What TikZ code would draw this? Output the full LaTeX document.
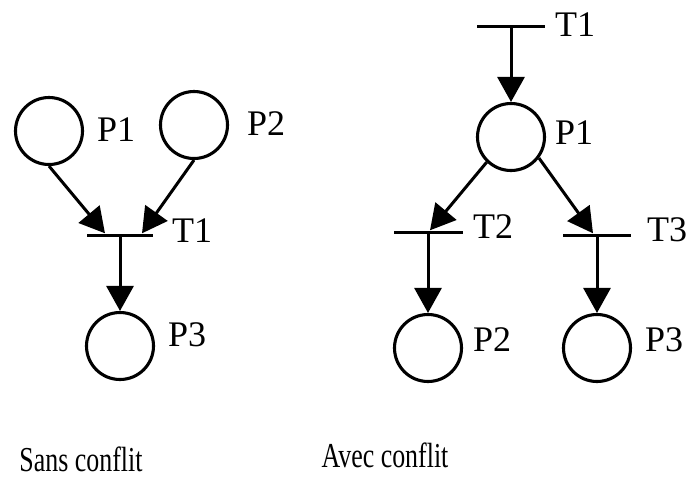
\documentclass[tikz,border=0pt]{standalone}
\usepackage{fontspec}
\setmainfont{Liberation Serif}
\usetikzlibrary{arrows.meta,calc}
\begin{document}
\begin{tikzpicture}[x=1pt,y=-1pt,
  place/.style={circle,draw,line width=3.1pt,minimum size=67pt,inner sep=0pt},
  trans/.style={fill=black,inner sep=0pt,minimum height=3pt,minimum width=#1},
  trans/.default=67pt,
  arc/.style={line width=3pt,-{Triangle[length=25pt,width=27pt]}},
  lbl/.style={anchor=west,inner sep=0pt,font=\fontsize{36}{40}\selectfont},
  caption/.style={anchor=base,inner sep=0pt,font=\fontsize{35}{40}\selectfont}]
\useasboundingbox (0,0) rectangle (696,480);

% Net without conflict
\node[place] (lp1) at (49,131) {};
\node[place] (lp2) at (194,125) {};
\node[trans=66pt] (lt1) at (120,235) {};
\node[place] (lp3) at (120,346) {};
\draw[arc] (lp1.south) -- ($(lt1.north)+(-15,0)$);
\draw[arc] (lp2.south) -- ($(lt1.north)+(22,0)$);
\draw[arc] (lt1.center) -- (lp3.north);

\node[lbl] (lp1l) at (97,130) {P1};
\node[lbl] (lp2l) at (247,124) {P2};
\node[lbl] (lt1l) at (172,231) {T1};
\node[lbl] (lp3l) at (168,335) {P3};

% Net with conflict
\node[trans=68pt] (rt1) at (511,26) {};
\node[place] (rp1) at (511,137) {};
\node[trans=69pt] (rt2) at (428,232) {};
\node[trans=68pt] (rt3) at (597,235) {};
\node[place] (rp2) at (428,348) {};
\node[place] (rp3) at (597,348) {};
\draw[arc] (rt1.center) -- (rp1.north);
\draw[arc] (rp1.226) -- ($(rt2.north)+(2,0)$);
\draw[arc] (rp1.323) -- ($(rt3.north)+(-4,0)$);
\draw[arc] (rt2.center) -- (rp2.north);
\draw[arc] (rt3.center) -- (rp3.north);

\node[lbl] (rt1l) at (555,25) {T1};
\node[lbl] (rp1l) at (555,133) {P1};
\node[lbl] (rt2l) at (473,227) {T2};
\node[lbl] (rt3l) at (647,230) {T3};
\node[lbl] (rp2l) at (473,340) {P2};
\node[lbl] (rp3l) at (645,340) {P3};

% Captions
\node[caption] (cap1) at (81,471) {\scalebox{0.74}[1]{Sans conflit}};
\node[caption] (cap2) at (385,467) {\scalebox{0.74}[1]{Avec conflit}};
\end{tikzpicture}
\end{document}
